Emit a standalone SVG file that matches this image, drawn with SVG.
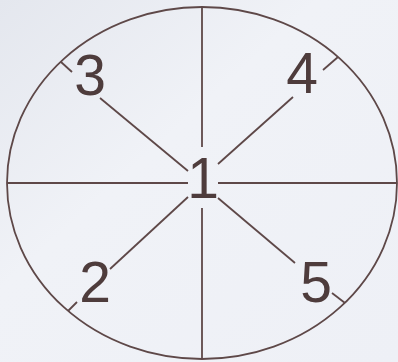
<svg xmlns="http://www.w3.org/2000/svg" width="398" height="362" viewBox="0 0 398 362">
<defs>
<linearGradient id="bg" x1="0" y1="0" x2="1" y2="1">
<stop offset="0" stop-color="#e4e7ee"/>
<stop offset="0.4" stop-color="#f0f2f7"/>
<stop offset="1" stop-color="#eef0f6"/>
</linearGradient>
<style>
.ln{stroke:#5e4848;stroke-width:1.8;fill:none}
.num{font-family:"Liberation Sans",Arial,sans-serif;font-size:57px;fill:#4e3c3c}
</style>
</defs>
<rect width="398" height="362" fill="url(#bg)"/>
<g id="ring"><ellipse class="ln" cx="202" cy="183" rx="195" ry="176"/></g>
<g id="connectors">
<line class="ln" x1="202" y1="7" x2="202" y2="147"/>
<line class="ln" x1="202" y1="208" x2="202" y2="359"/>
<line class="ln" x1="7" y1="183" x2="188" y2="183"/>
<line class="ln" x1="218" y1="183" x2="397" y2="183"/>
<line class="ln" x1="100" y1="98" x2="188" y2="171"/>
<line class="ln" x1="61" y1="62" x2="72" y2="72"/>
<line class="ln" x1="293" y1="97" x2="218" y2="164"/>
<line class="ln" x1="323" y1="70" x2="338" y2="57"/>
<line class="ln" x1="110" y1="269" x2="188" y2="197"/>
<line class="ln" x1="68" y1="311" x2="77" y2="302"/>
<line class="ln" x1="218" y1="198" x2="295" y2="263"/>
<line class="ln" x1="332" y1="293" x2="345" y2="303"/>
</g>
<g id="n1"><text class="num" x="203" y="198" text-anchor="middle">1</text></g>
<g id="n2"><text class="num" x="95" y="302" text-anchor="middle">2</text></g>
<g id="n3"><text class="num" x="90" y="95" text-anchor="middle">3</text></g>
<g id="n4"><text class="num" x="302" y="93" text-anchor="middle">4</text></g>
<g id="n5"><text class="num" x="316" y="302" text-anchor="middle">5</text></g>
</svg>
